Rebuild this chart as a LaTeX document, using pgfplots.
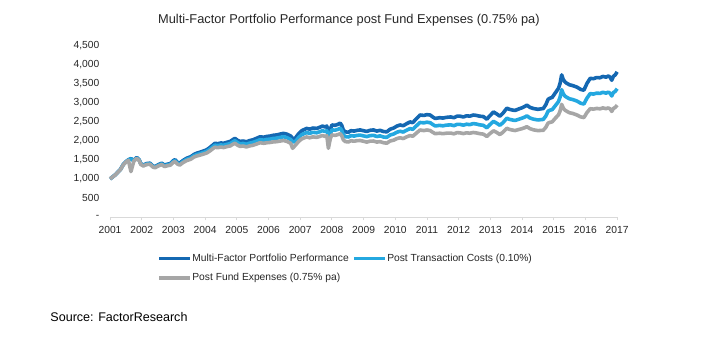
\documentclass[border=0pt]{standalone}
\usepackage{pgfplots}
\pgfplotsset{compat=1.18}
\usepackage{pgfplotstable}
\usepackage{fontspec}
\setmainfont{Liberation Sans}
\definecolor{mfdark}{RGB}{20,104,178}
\definecolor{mflight}{RGB}{36,168,224}
\definecolor{mfgray}{RGB}{166,166,166}
\definecolor{axgray}{RGB}{217,217,217}
\definecolor{txt}{RGB}{38,38,38}

\pgfplotstableread{
year dark light gray
2001.00 1000 1000 1000
2001.08 1050 1049 1049
2001.17 1110 1109 1107
2001.25 1180 1178 1175
2001.33 1250 1246 1244
2001.42 1380 1376 1370
2001.50 1450 1444 1438
2001.58 1500 1494 1486
2001.66 1530 1522 1190
2001.75 1480 1471 1462
2001.84 1560 1551 1538
2001.92 1500 1490 1478
2001.97 1400 1390 1378
2002.05 1360 1349 1337
2002.15 1400 1387 1374
2002.26 1410 1396 1382
2002.35 1340 1326 1311
2002.42 1320 1305 1290
2002.52 1370 1354 1337
2002.63 1410 1393 1373
2002.72 1360 1342 1322
2002.79 1380 1361 1340
2002.90 1400 1379 1358
2003.00 1480 1458 1433
2003.05 1500 1476 1451
2003.12 1440 1417 1391
2003.20 1410 1386 1361
2003.30 1480 1453 1425
2003.42 1540 1512 1480
2003.55 1580 1550 1515
2003.65 1640 1607 1571
2003.73 1670 1635 1597
2003.85 1700 1663 1624
2003.95 1730 1692 1649
2004.05 1760 1720 1676
2004.15 1820 1776 1729
2004.25 1890 1843 1794
2004.31 1930 1882 1828
2004.40 1920 1870 1816
2004.50 1940 1888 1833
2004.58 1930 1878 1820
2004.70 1960 1905 1846
2004.79 1980 1923 1861
2004.88 2030 1969 1906
2004.94 2060 1998 1932
2005.02 2010 1950 1883
2005.10 1980 1919 1851
2005.20 1990 1926 1859
2005.30 1970 1905 1836
2005.40 2000 1934 1862
2005.50 2020 1951 1877
2005.62 2060 1988 1910
2005.73 2100 2024 1945
2005.85 2090 2013 1931
2005.95 2110 2032 1945
2006.05 2120 2039 1953
2006.15 2140 2057 1967
2006.26 2150 2064 1974
2006.36 2170 2083 1988
2006.47 2190 2100 2004
2006.58 2170 2079 1981
2006.70 2120 2029 1931
2006.76 2060 1971 1800
2006.84 2060 1969 1873
2006.95 2180 2082 1977
2007.05 2260 2156 2048
2007.10 2280 2175 2063
2007.20 2320 2211 2097
2007.30 2300 2192 2075
2007.40 2330 2218 2099
2007.52 2320 2206 2086
2007.62 2350 2233 2110
2007.70 2380 2261 2135
2007.78 2360 2240 2112
2007.84 2380 2259 2128
2007.89 2240 2124 1800
2007.95 2300 2180 2054
2008.00 2410 2282 2150
2008.10 2400 2273 2138
2008.20 2430 2299 2160
2008.26 2460 2327 2184
2008.31 2400 2268 2131
2008.36 2280 2155 2022
2008.42 2230 2105 1976
2008.52 2220 2096 1965
2008.60 2260 2131 1998
2008.70 2250 2120 1985
2008.80 2270 2138 2000
2008.89 2280 2145 2004
2009.00 2260 2124 1984
2009.10 2240 2105 1962
2009.20 2270 2131 1986
2009.31 2280 2139 1990
2009.42 2250 2108 1962
2009.52 2270 2125 1975
2009.62 2240 2097 1947
2009.73 2230 2085 1933
2009.84 2300 2148 1992
2009.95 2330 2174 2013
2010.05 2380 2220 2054
2010.15 2410 2246 2075
2010.25 2390 2225 2055
2010.35 2440 2269 2096
2010.47 2490 2316 2134
2010.55 2470 2295 2114
2010.65 2560 2376 2186
2010.78 2670 2475 2278
2010.90 2660 2466 2264
2011.00 2680 2482 2278
2011.10 2670 2470 2264
2011.18 2620 2424 2219
2011.26 2580 2384 2183
2011.40 2600 2400 2194
2011.50 2590 2388 2183
2011.62 2610 2406 2195
2011.75 2620 2413 2198
2011.85 2600 2392 2179
2011.95 2640 2426 2210
2012.04 2640 2426 2204
2012.15 2620 2405 2185
2012.25 2650 2430 2205
2012.35 2640 2418 2194
2012.46 2670 2446 2213
2012.56 2660 2434 2202
2012.66 2640 2413 2183
2012.78 2630 2401 2170
2012.89 2560 2335 2109
2012.97 2640 2408 2173
2013.10 2750 2505 2258
2013.20 2700 2457 2214
2013.30 2640 2402 2160
2013.40 2720 2472 2222
2013.52 2850 2588 2323
2013.60 2820 2558 2295
2013.70 2800 2540 2276
2013.78 2790 2528 2265
2013.90 2830 2561 2292
2014.00 2860 2588 2314
2014.10 2900 2622 2343
2014.15 2930 2649 2365
2014.25 2870 2592 2313
2014.36 2840 2562 2283
2014.50 2820 2541 2262
2014.67 2840 2556 2272
2014.75 2940 2643 2349
2014.82 3080 2769 2458
2014.88 3110 2796 2479
2014.95 3130 2811 2491
2015.05 3250 2915 2587
2015.15 3370 3023 2676
2015.20 3500 3140 2776
2015.25 3720 3333 2950
2015.30 3600 3226 2851
2015.35 3540 3168 2800
2015.41 3500 3133 2769
2015.50 3460 3093 2730
2015.60 3440 3075 2711
2015.73 3400 3036 2672
2015.85 3340 2979 2622
2015.95 3320 2958 2603
2016.05 3500 3115 2737
2016.15 3630 3231 2835
2016.25 3620 3218 2824
2016.35 3650 3241 2843
2016.46 3645 3237 2832
2016.55 3680 3264 2856
2016.65 3660 3243 2837
2016.72 3690 3269 2856
2016.78 3660 3239 2829
2016.83 3580 3168 2764
2016.88 3680 3257 2841
2016.94 3720 3288 2868
2017.00 3800 3359 2930
}\perf

\begin{document}
\begin{tikzpicture}
\begin{axis}[
  scale only axis,
  width=380.25pt, height=129pt,
  xmin=2001, xmax=2017,
  ymin=0, ymax=4500,
  clip=false,
  axis lines*=left,
  y axis line style={draw=none},
  x axis line style={draw=axgray, line width=0.8pt, -},
  xtick={2001,2002,...,2017},
  xticklabels={2001,2002,2003,2004,2005,2006,2007,2008,2009,2010,2011,2012,2013,2014,2015,2016,2017},
  ytick={0,500,1000,1500,2000,2500,3000,3500,4000,4500},
  yticklabels={-,500,{1,000},{1,500},{2,000},{2,500},{3,000},{3,500},{4,000},{4,500}},
  /pgf/number format/assume math mode=true,
  ticklabel style={font=\fontsize{7.7}{9}\selectfont, text=txt},
  x tick style={draw=axgray, line width=0.6pt},
  y tick style={draw=none},
  major tick length=2.5pt,
  tick align=outside,
  xticklabel style={yshift=-1pt},
  yticklabel style={xshift=-2pt},
  legend columns=2,
  legend style={
    at={(rel axis cs:0.0927,-0.205)}, anchor=north west,
    draw=none, fill=none,
    font=\fontsize{7.7}{9}\selectfont, text=txt,
    inner sep=0pt, row sep=5.5pt,
    nodes={inner xsep=0.6pt, inner ysep=1pt},
    /tikz/every even column/.append style={column sep=2pt},
  },
  legend cell align=left,
  legend image code/.code={\draw[#1] (0pt,0pt) -- (23pt,0pt);},
]
\path (rel axis cs:-0.217,-0.715) rectangle (rel axis cs:1.193,1.262);
\addplot[mfdark, line width=2.7pt, line join=round] table[x=year, y=dark] {\perf};
\addlegendentry{Multi-Factor Portfolio Performance}
\addplot[mflight, line width=2.7pt, line join=round] table[x=year, y=light] {\perf};
\addlegendentry{Post Transaction Costs (0.10\%)}
\addplot[mfgray, line width=2.7pt, line join=round] table[x=year, y=gray] {\perf};
\addlegendentry{Post Fund Expenses (0.75\% pa)}
\node[font=\fontsize{9.6}{11}\selectfont, text=txt] at (rel axis cs:0.471,1.145) {Multi-Factor Portfolio Performance post Fund Expenses (0.75\% pa)};
\node[font=\fontsize{9.4}{11}\selectfont, text=black, anchor=west, inner sep=0pt] at (rel axis cs:-0.118,-0.58) {Source: FactorResearch};
\end{axis}
\end{tikzpicture}
\end{document}
